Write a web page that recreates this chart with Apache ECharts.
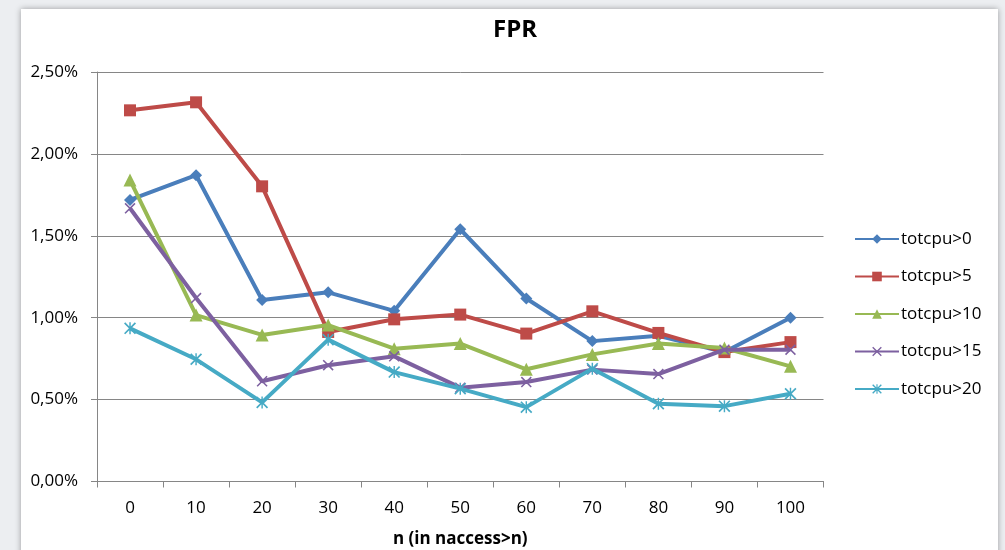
<!DOCTYPE html>
<html>
<head>
<meta charset="utf-8">
<script src="https://cdn.jsdelivr.net/npm/echarts@6/dist/echarts.min.js"></script>
<style>
html,body{margin:0;padding:0;background:#eceef1;width:1005px;height:550px;overflow:hidden;}
#panel{position:absolute;left:21px;top:9px;width:977px;height:560px;background:#fff;box-shadow:0 0 6px rgba(0,0,0,0.35);}
#chart{position:absolute;left:0;top:0;width:1005px;height:550px;}
</style>
</head>
<body>
<div id="panel"></div>
<div id="chart"></div>
<script>
const categories = ['0','10','20','30','40','50','60','70','80','90','100'];
const seriesNames = ['totcpu>0','totcpu>5','totcpu>10','totcpu>15','totcpu>20'];
const s0 = [0.01719,0.01870,0.01108,0.01155,0.01042,0.01540,0.01117,0.00857,0.00890,0.00790,0.01000];
const s5 = [0.02266,0.02315,0.01802,0.00913,0.00990,0.01019,0.00903,0.01039,0.00907,0.00790,0.00851];
const s10 = [0.01840,0.01016,0.00895,0.00955,0.00811,0.00842,0.00685,0.00776,0.00842,0.00815,0.00703];
const s15 = [0.01668,0.01120,0.00612,0.00710,0.00764,0.00573,0.00607,0.00683,0.00656,0.00805,0.00805];
const s20 = [0.00935,0.00746,0.00483,0.00866,0.00668,0.00567,0.00454,0.00689,0.00475,0.00460,0.00536];
const yTicks = [0,0.005,0.01,0.015,0.02,0.025];

const colors = ['#4a7ebb','#be4b48','#98b954','#7d60a0','#46aac5'];
const xPath = 'path://M0,1L1,0L10,9L9,10Z M9,0L10,1L1,10L0,9Z';
const starPath = 'path://M0,1L1,0L10,9L9,10Z M9,0L10,1L1,10L0,9Z M4.4,0L5.6,0L5.6,10L4.4,10Z';
const symbols = ['diamond','rect','triangle',xPath,starPath];
const symSizes = [12,12,13,11,12];
const dataSets = [s0,s5,s10,s15,s20];

const font = '"Open Sans", "Liberation Sans", sans-serif';

const chart = echarts.init(document.getElementById('chart'), null, {renderer:'canvas'});
chart.setOption({
  backgroundColor: 'transparent',
  animation: false,
  color: colors,
  title: {
    text: 'FPR', left: 510, top: 13, textAlign: 'center',
    textStyle: {fontFamily: font, fontSize: 24, fontWeight: 'bold', color: '#000'}
  },
  grid: {left: 97, right: 181.5, top: 72, height: 409.5, outerBoundsMode: 'none', containLabel: false},
  legend: {
    orient: 'vertical', left: 854, top: 230, itemGap: 19.5, padding: 0,
    itemWidth: 44, itemHeight: 12,
    textStyle: {fontFamily: font, fontSize: 17, lineHeight: 18, color: '#000', padding: [0,0,0,-3]},
    data: seriesNames
  },
  xAxis: {
    type: 'category', data: categories, boundaryGap: true,
    name: 'n (in naccess>n)', nameLocation: 'middle', nameGap: 49,
    nameTextStyle: {fontFamily: font, fontSize: 17, fontWeight: 'bold', color: '#000'},
    axisLine: {lineStyle: {color: '#868686', width: 1}},
    axisTick: {show: true, length: 6, alignWithLabel: false, lineStyle: {color: '#868686'}},
    axisLabel: {fontFamily: font, fontSize: 17, color: '#000', margin: 18},
    splitLine: {show: false}
  },
  yAxis: {
    type: 'value', min: 0, max: 0.025, interval: 0.005,
    axisLine: {show: true, lineStyle: {color: '#868686', width: 1}},
    axisTick: {show: true, length: 6, lineStyle: {color: '#868686'}},
    axisLabel: {fontFamily: font, fontSize: 17, color: '#000', margin: 19,
      formatter: v => (v*100).toFixed(2).replace('.', ',') + '%'},
    splitLine: {show: true, lineStyle: {color: '#868686', width: 1}}
  },
  series: dataSets.map((d, i) => ({
    name: seriesNames[i], type: 'line', data: d,
    symbol: symbols[i], symbolSize: symSizes[i], showSymbol: true,
    lineStyle: {width: 4, color: colors[i]},
    itemStyle: {color: colors[i], borderWidth: 0},
    z: 2 + i
  }))
});
</script>
</body>
</html>
